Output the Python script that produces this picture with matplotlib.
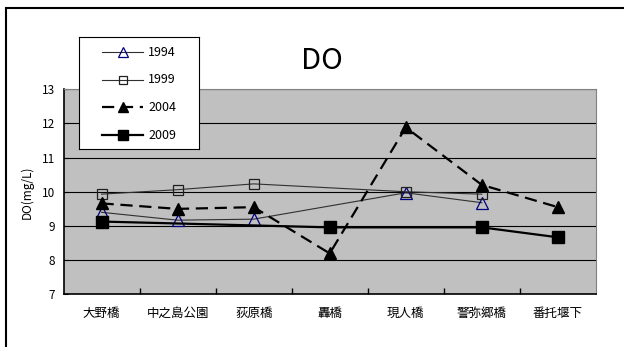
#!/usr/bin/env python3
"""
DO (dissolved oxygen) by sampling point, 1994-2009
"""

import numpy as np
import matplotlib
matplotlib.use('Agg')
import matplotlib.pyplot as plt
from matplotlib.patches import Rectangle

plt.rcParams['font.family'] = ['Noto Sans CJK JP', 'DejaVu Sans']

# Sampling points (upstream -> downstream)
sites = ['大野橋', '中之島公園', '荻原橋', '轟橋', '現人橋', '警弥郷橋', '番托堰下']

# DO (mg/L); nan = not measured
do_1994 = [9.40, 9.17, 9.20, np.nan, 9.97, 9.68, np.nan]
do_1999 = [9.93, 10.06, 10.23, np.nan, 10.00, 9.93, np.nan]
do_2004 = [9.66, 9.50, 9.55, 8.20, 11.88, 10.20, 9.55]
do_2009 = [9.13, np.nan, np.nan, 8.96, np.nan, 8.96, 8.67]

years = ['1994', '1999', '2004', '2009']

# line / marker style per year
styles = [
    dict(color='#303030', linewidth=0.8, marker='^', markerfacecolor='none',
         markeredgecolor='#000080', markeredgewidth=0.9),
    dict(color='#303030', linewidth=0.8, marker='s', markerfacecolor='none',
         markeredgecolor='#202020', markeredgewidth=0.9),
    dict(color='black', linewidth=1.6, linestyle=(0, (5.5, 3)), marker='^',
         markerfacecolor='black', markeredgecolor='black'),
    dict(color='black', linewidth=1.6, marker='s', markerfacecolor='black',
         markeredgecolor='black'),
]
plot_sizes = [8, 7, 8.5, 8.5]
legend_sizes = [6.5, 6, 7, 7]


def plot_series(ax, values, **kw):
    """Plot a series, joining across missing sites like Excel does"""
    x = np.arange(len(values))
    y = np.array(values, dtype=float)
    ok = ~np.isnan(y)
    return ax.plot(x[ok], y[ok], **kw)[0]


fig = plt.figure(figsize=(6.24, 3.47), dpi=100)
ax = fig.add_axes([0.1018, 0.1513, 0.8532, 0.5922])
ax.set_facecolor('#c0c0c0')

# outer chart frame (only top and left edge fall inside the image)
fig.patches.append(Rectangle((6 / 624, -0.5), 2.0, 1.5 - 8 / 347,
                             transform=fig.transFigure, fill=False,
                             edgecolor='black', linewidth=1.5))

for vals, st, ms in zip([do_1994, do_1999, do_2004, do_2009], styles, plot_sizes):
    plot_series(ax, vals, markersize=ms, zorder=3, **st)

ax.set_xlim(-0.5, len(sites) - 0.5)
ax.set_ylim(7, 13)
ax.set_yticks(range(7, 14))
ax.yaxis.grid(True, color='black', linewidth=0.8)
ax.set_axisbelow(True)

ax.set_xticks(np.arange(len(sites)))
ax.set_xticklabels(sites, fontsize=9)
ax.set_xticks(np.arange(len(sites) - 1) + 0.5, minor=True)
ax.tick_params(axis='x', which='major', length=0, pad=9)
ax.tick_params(axis='x', which='minor', direction='in', length=4, width=1)
ax.tick_params(axis='y', direction='in', length=3, labelsize=8.5, pad=6)

for side in ('top', 'right'):
    ax.spines[side].set_color('#808080')
for side in ('left', 'bottom'):
    ax.spines[side].set_color('black')
    ax.spines[side].set_linewidth(1.2)

ax.set_ylabel('DO(mg/L)', fontsize=8.5, labelpad=6)

fig.text(322 / 624, 1 - 61 / 347, 'DO', fontsize=21, ha='center', va='center')

# legend box drawn in its own pixel-scaled axes
lax = fig.add_axes([79 / 624, 1 - 149 / 347, 120 / 624, 112 / 347])
lax.set_xlim(0, 120)
lax.set_ylim(112, 0)
lax.set_xticks([])
lax.set_yticks([])
lax.set_facecolor('white')
for sp in lax.spines.values():
    sp.set_linewidth(0.8)
    sp.set_color('black')
for i, (yr, st, ms) in enumerate(zip(years, styles, legend_sizes)):
    yy = 15 + i * 27.7
    lax.plot([23, 64], [yy, yy], **{k: v for k, v in st.items()
                                    if not k.startswith('marker')})
    lax.plot([43.5], [yy], markersize=ms, linestyle='none',
             **{k: v for k, v in st.items() if k.startswith('marker')})
    lax.text(69, yy, yr, fontsize=9, va='center', ha='left')

plt.savefig('out.png', dpi=100)
plt.close()
